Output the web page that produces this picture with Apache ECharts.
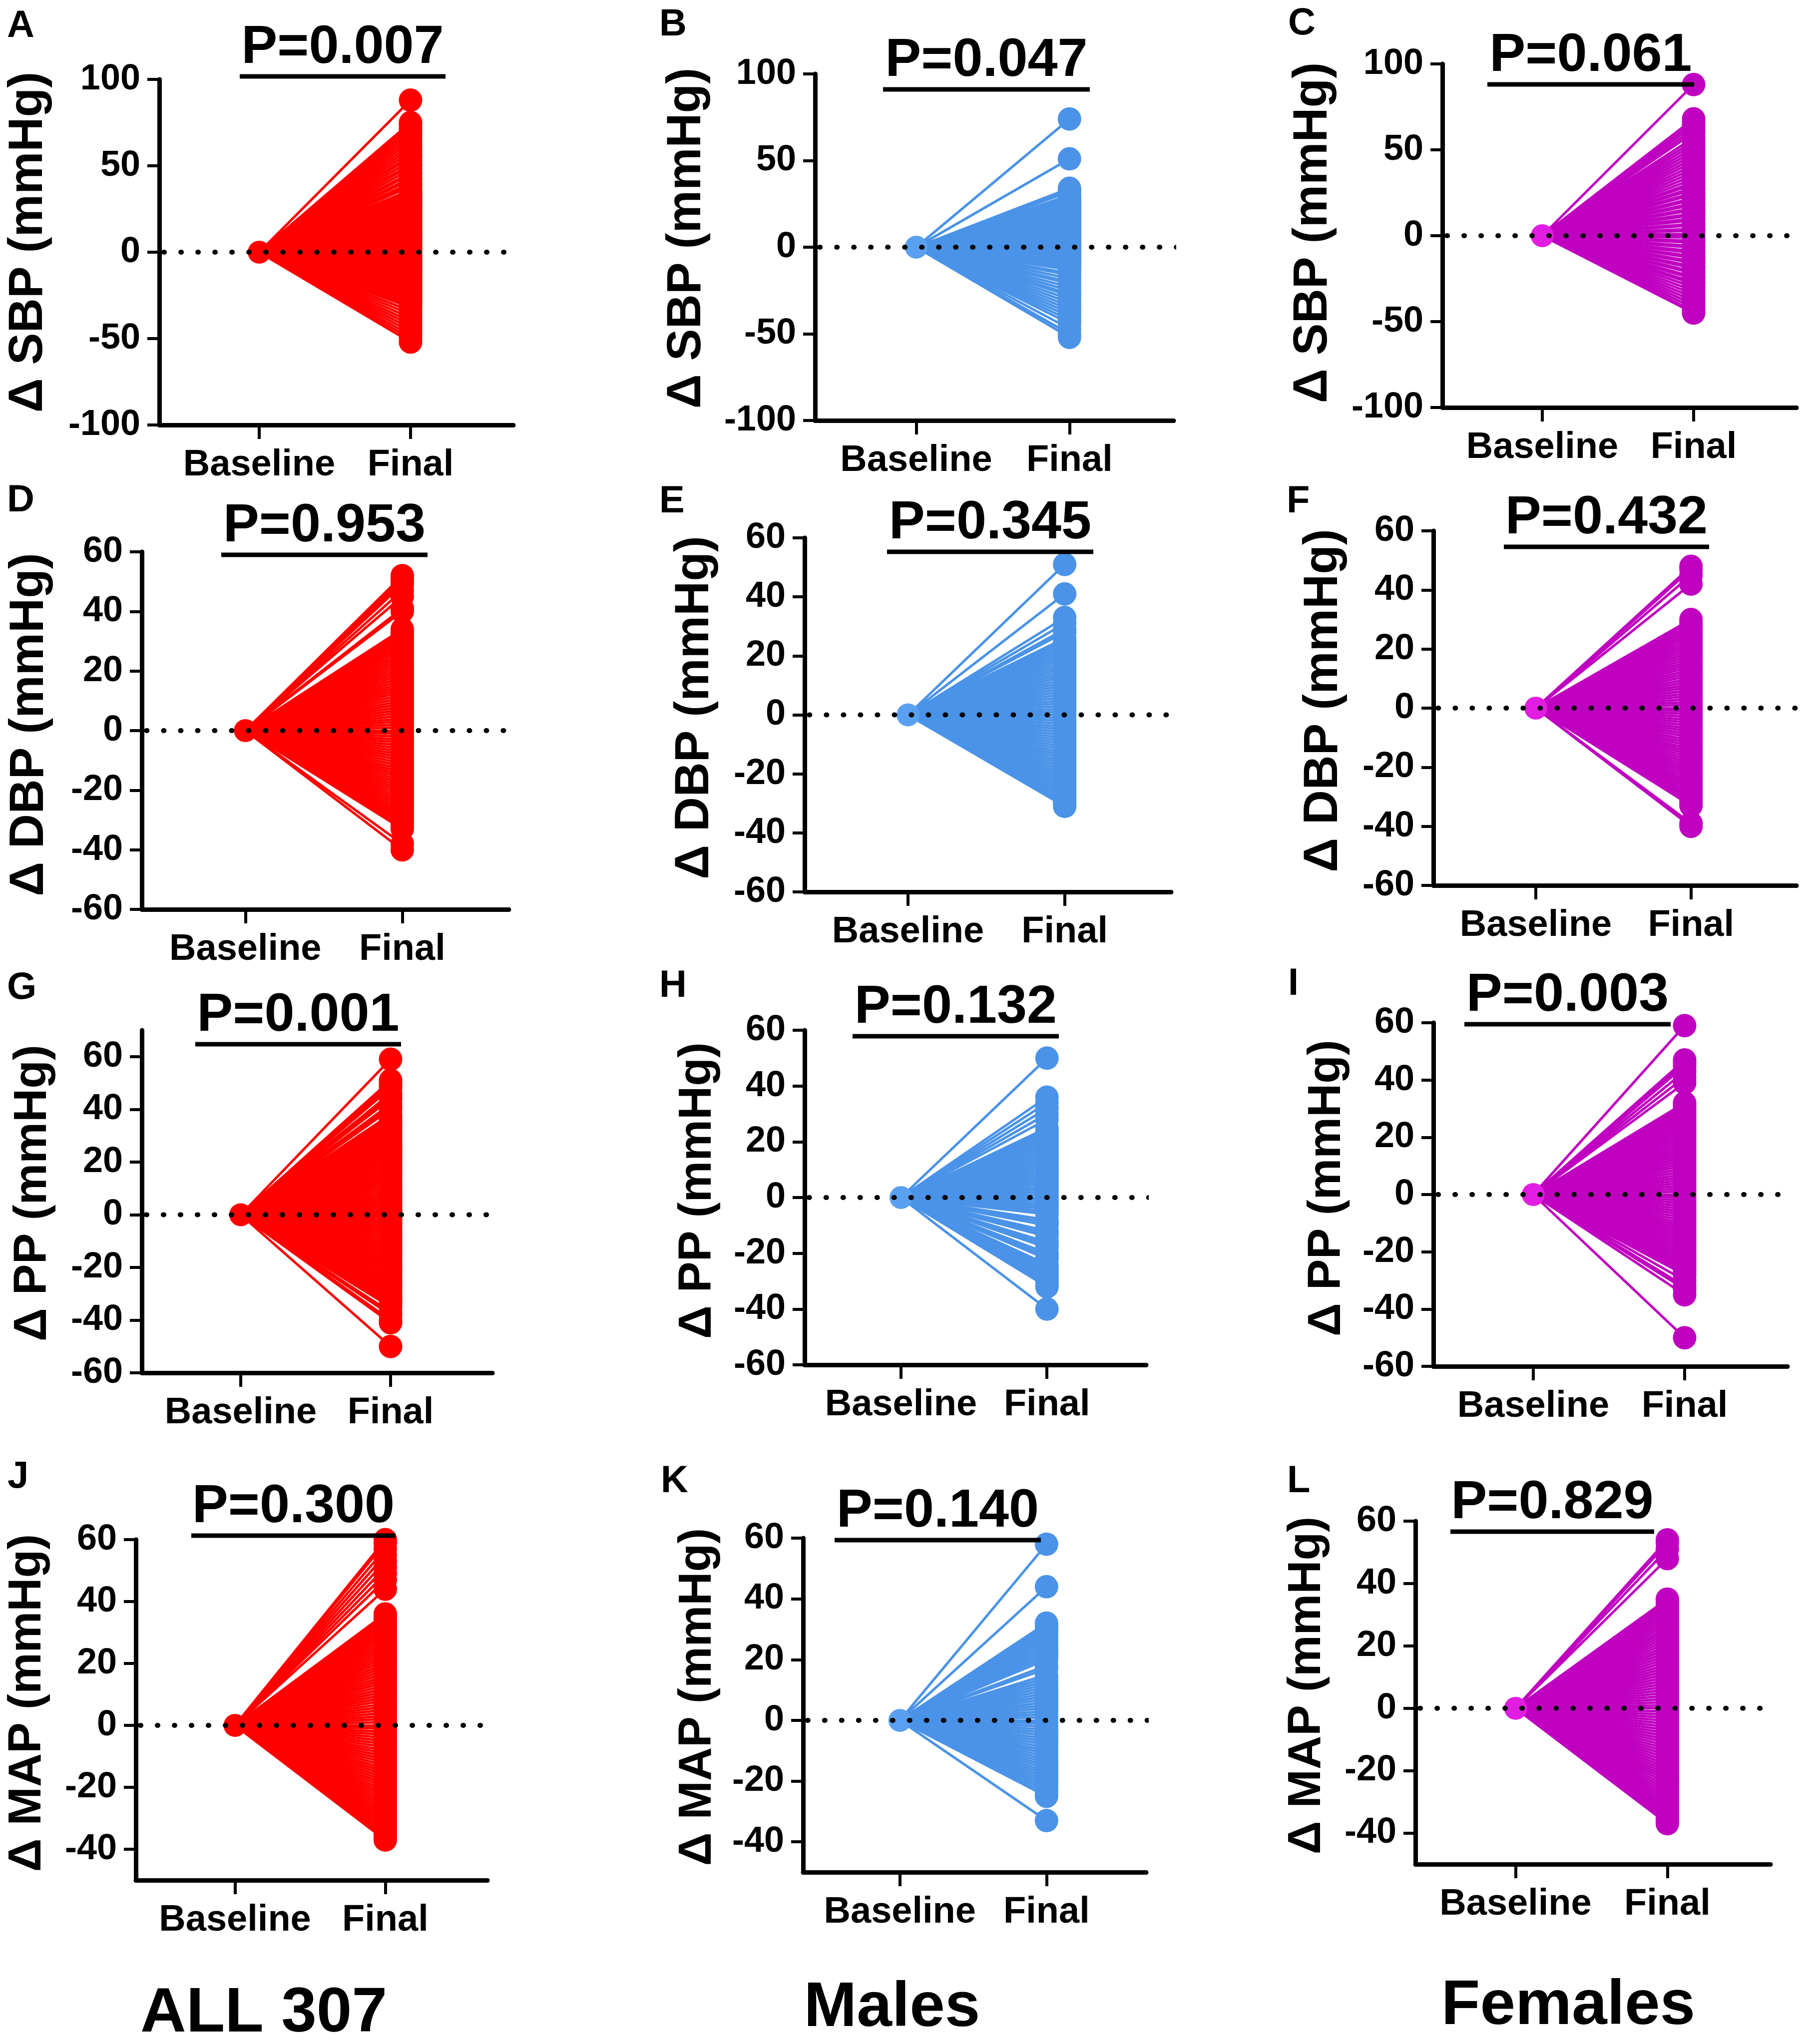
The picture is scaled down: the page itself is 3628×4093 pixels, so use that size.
<!DOCTYPE html>
<html><head><meta charset="utf-8">
<script src="https://cdn.jsdelivr.net/npm/echarts@6/dist/echarts.min.js"></script>
<style>html,body{margin:0;padding:0;background:#fff}#c{width:3628px;height:4093px}</style>
</head><body><div id="c"></div><script>
// ---------- data ----------
const categories = ['Baseline', 'Final'];
const panelLetters = ['A','B','C','D','E','F','G','H','I','J','K','L'];
const pLabels = ['P=0.007','P=0.047','P=0.061','P=0.953','P=0.345','P=0.432','P=0.001','P=0.132','P=0.003','P=0.300','P=0.140','P=0.829'];
const yTitles = ['\u0394 SBP (mmHg)', '\u0394 DBP (mmHg)', '\u0394 PP (mmHg)', '\u0394 MAP (mmHg)'];
const groupLabels = ['ALL 307', 'Males', 'Females'];
const ticksSBP = [-100, -50, 0, 50, 100];
const ticksDBP = [-60, -40, -20, 0, 20, 40, 60];
const ticksPP  = [-60, -40, -20, 0, 20, 40, 60];
const ticksMAP = [-40, -20, 0, 20, 40, 60];

// Final change values (Baseline is 0 for every subject)
const sbpAll = [88,75,74,72,70,68,66,64,62,60,58,56,55,53,51,50,48,46,45,43,42,40,39,38,36,35,34,33,32,31,30,29,28,27,26,25,24,23,22,21,20,19,18,17,16,15,14,13,12,11,10,9,8,7,6,5,4,3,2,1,0,-1,-2,-3,-4,-5,-6,-7,-8,-9,-10,-11,-12,-13,-14,-15,-16,-17,-18,-19,-20,-21,-22,-23,-24,-25,-26,-27,-28,-29,-30,-31,-32,-34,-36,-38,-40,-42,-44,-46,-48,-50,-52];
const sbpMale = [74,51,34,33,32,30,29,28,27,26,25,24,23,22,21,20,19,18,17,16,15,14,13,12,11,10,9,8,7,6,5,4,3,2,1,0,-1,-2,-3,-4,-5,-6,-7,-8,-9,-10,-11,-12,-13,-15,-16,-18,-20,-21,-23,-25,-27,-28,-30,-32,-34,-36,-38,-40,-42,-44,-47,-50,-52];
const sbpFemale = [88,68,66,64,62,60,57,55,53,51,49,47,45,43,41,39,37,35,33,31,30,28,27,25,24,22,21,19,18,16,15,13,12,10,9,7,6,4,3,1,0,-1,-3,-4,-6,-7,-9,-10,-12,-13,-15,-16,-18,-19,-21,-22,-24,-25,-27,-28,-30,-32,-34,-36,-38,-40,-42,-44,-45];
const dbpAll = [52,51,50,49,47,45,41,40,34,33,32,31,30,29,28,27,26,25,24,23,22,21,20,19,18,17,16,15,14,13,12,11,10,9,8,7,6,5,4,3,2,1,0,-1,-2,-3,-4,-5,-6,-7,-8,-9,-10,-11,-12,-13,-14,-15,-16,-17,-18,-19,-20,-21,-22,-23,-24,-25,-26,-27,-28,-29,-30,-31,-32,-33,-38,-40];
const dbpMale = [51,41,33,31,29,28,26,25,24,23,22,21,20,19,18,17,16,15,14,13,12,11,10,9,8,7,6,5,4,3,2,1,0,-1,-2,-3,-4,-5,-6,-7,-8,-9,-10,-11,-12,-13,-14,-15,-16,-17,-18,-19,-20,-21,-22,-23,-24,-25,-26,-27,-28,-29,-30,-31];
const dbpFemale = [48,47,45,42,30,29,28,27,26,25,24,23,22,21,20,19,18,17,16,15,14,13,12,11,10,9,8,7,6,5,4,3,2,1,0,-1,-2,-3,-4,-5,-6,-7,-8,-9,-10,-11,-12,-13,-14,-15,-16,-17,-18,-19,-20,-21,-22,-23,-24,-25,-26,-27,-28,-29,-30,-31,-32,-33,-39,-40];
const ppAll = [59,51,50,49,48,46,45,44,42,41,40,38,37,36,35,34,33,32,31,30,29,28,27,26,25,24,23,22,21,20,19,18,17,16,15,14,13,12,11,10,9,8,7,6,5,4,3,2,1,0,-1,-2,-3,-4,-5,-6,-7,-8,-9,-10,-11,-12,-13,-14,-15,-16,-17,-18,-19,-20,-21,-22,-23,-24,-25,-26,-27,-28,-29,-30,-31,-32,-33,-34,-35,-37,-38,-40,-41,-50];
const ppMale = [50,36,34,32,30,28,25,24,23,22,21,20,19,18,17,16,15,14,13,12,11,10,9,8,7,6,5,4,3,2,1,0,-1,-2,-3,-4,-5,-6,-8,-9,-10,-12,-13,-14,-16,-17,-18,-20,-21,-22,-24,-25,-26,-27,-28,-29,-30,-31,-32,-40];
const ppFemale = [59,47,46,45,43,41,39,32,31,30,29,28,27,26,25,24,23,22,21,20,19,18,17,16,15,14,13,12,11,10,9,8,7,6,5,4,3,2,1,0,-1,-2,-3,-4,-5,-6,-7,-8,-9,-10,-11,-12,-13,-14,-15,-16,-17,-18,-19,-20,-21,-22,-23,-24,-25,-26,-27,-28,-30,-32,-33,-35,-50];
const mapAll = [60,59,57,55,53,51,49,47,44,36,35,34,33,32,31,30,29,28,27,26,25,24,23,22,21,20,19,18,17,16,15,14,13,12,11,10,9,8,7,6,5,4,3,2,1,0,-1,-2,-3,-4,-5,-6,-7,-8,-9,-10,-11,-12,-13,-14,-15,-16,-17,-18,-19,-20,-21,-22,-23,-24,-25,-26,-27,-28,-29,-30,-31,-32,-33,-34,-35,-36,-37];
const mapMale = [58,44,32,31,30,29,28,27,26,25,24,23,22,21,20,18,17,15,14,13,12,11,10,9,8,7,6,5,4,3,2,1,0,-1,-2,-3,-4,-5,-6,-7,-8,-9,-10,-11,-12,-13,-14,-15,-16,-17,-18,-19,-20,-21,-22,-23,-24,-25,-33];
const mapFemale = [54,53,51,48,35,34,33,32,31,30,29,28,27,26,25,24,23,22,21,20,19,18,17,16,15,14,13,12,11,10,9,8,7,6,5,4,3,2,1,0,-1,-2,-3,-4,-5,-6,-7,-8,-9,-10,-11,-12,-13,-14,-15,-16,-17,-18,-19,-20,-21,-22,-23,-24,-25,-26,-27,-28,-29,-30,-31,-32,-33,-34,-35,-36,-37];

// ---------- panel setup ----------
const panelValues = [sbpAll, sbpMale, sbpFemale, dbpAll, dbpMale, dbpFemale, ppAll, ppMale, ppFemale, mapAll, mapMale, mapFemale];
const panelTicks = [ticksSBP, ticksSBP, ticksSBP, ticksDBP, ticksDBP, ticksDBP, ticksPP, ticksPP, ticksPP, ticksMAP, ticksMAP, ticksMAP];
const panelRange = [[-100,100],[-100,100],[-100,100],[-60,60],[-60,60],[-60,60],[-60,70],[-60,60],[-60,60],[-50,60],[-50,60],[-50,60]];

const lineColors = ['#FF0000', '#4A93E8', '#C000C0'];
const baseColors = ['#FF0000', '#5AA0F0', '#E21DE2'];
const FONT = "'Liberation Sans', Arial, sans-serif";
const X_MIN = -0.66, X_MAX = 1.68;

// layout: g = [left, top, right, bottom] of plot; p = [x1, x2, y] significance bar; l = letter [x, yMid]; t = y title [x, y]
const layout = [
  {g:[319,159,1028,851],   p:[480,892,153],    l:[14,53],     t:[58,485]},
  {g:[1632,148,2350,842],  p:[1768,2182,179],  l:[1320,50],   t:[1376,477]},
  {g:[2888,128,3597,816],  p:[2978,3392,169],  l:[2579,48],   t:[2630,466]},
  {g:[284,1105,1019,1821], p:[443,856,1111],   l:[14,1003],   t:[60,1451]},
  {g:[1611,1077,2345,1786],p:[1776,2189,1105], l:[1320,1005], t:[1392,1417]},
  {g:[2870,1063,3597,1773],p:[3011,3422,1095], l:[2576,1005], t:[2651,1403]},
  {g:[284,2063,986,2749],  p:[391,803,2091],   l:[14,1979],   t:[66,2389]},
  {g:[1611,2063,2295,2733],p:[1707,2120,2075], l:[1320,1975], t:[1397,2384]},
  {g:[2870,2048,3579,2736],p:[2932,3345,2051], l:[2579,1971], t:[2657,2379]},
  {g:[272,3083,976,3765],  p:[383,792,3075],   l:[15,2958],   t:[55,3410]},
  {g:[1608,3080,2295,3749],p:[1671,2084,3084], l:[1323,2967], t:[1397,3398]},
  {g:[2834,3046,3545,3733],p:[2904,3312,3067], l:[2577,2967], t:[2617,3375]}
];
const titleSizes = [96, 96, 93, 93];
const groupLabelPos = [[528,4033],[1786,4022],[3140,4018]];

const grids = [], xAxes = [], yAxes = [], series = [], graphics = [];

layout.forEach((L, i) => {
  const col = i % 3, row = Math.floor(i / 3);
  const vals = panelValues[i];
  const color = lineColors[col];
  grids.push({left: L.g[0], top: L.g[1], width: L.g[2] - L.g[0], height: L.g[3] - L.g[1], containLabel: false, outerBoundsMode: 'none'});
  xAxes.push({
    gridIndex: i, type: 'value', min: X_MIN, max: X_MAX,
    axisLine: {show: true, onZero: false, lineStyle: {color: '#000', width: 9}},
    axisTick: {show: true, customValues: [0, 1], length: 28, lineStyle: {color: '#000', width: 6}},
    axisLabel: {show: true, customValues: [0, 1], formatter: v => categories[Math.round(v)],
      fontSize: 74, fontWeight: 'bold', fontFamily: FONT, color: '#000', margin: 44},
    splitLine: {show: false}
  });
  yAxes.push({
    gridIndex: i, type: 'value', min: panelRange[i][0], max: panelRange[i][1],
    axisLine: {show: true, onZero: false, lineStyle: {color: '#000', width: 9}},
    axisTick: {show: true, customValues: panelTicks[i], length: 24, lineStyle: {color: '#000', width: 6}},
    axisLabel: {show: true, customValues: panelTicks[i], fontSize: 72, fontWeight: 'bold', fontFamily: FONT, color: '#000', margin: 38},
    splitLine: {show: false}
  });
  series.push({
    type: 'lines', coordinateSystem: 'cartesian2d', xAxisIndex: i, yAxisIndex: i, silent: true, z: 2,
    lineStyle: {color: color, width: 5, opacity: 1},
    data: vals.map(v => ({coords: [[0, 0], [1, v]]}))
  });
  series.push({
    type: 'scatter', xAxisIndex: i, yAxisIndex: i, silent: true, z: 3, symbolSize: 47, clip: false,
    itemStyle: {color: color, opacity: 1},
    data: vals.map(v => [1, v])
  });
  series.push({
    type: 'scatter', xAxisIndex: i, yAxisIndex: i, silent: true, z: 4, symbolSize: 46,
    itemStyle: {color: baseColors[col], opacity: 1},
    data: [[0, 0]]
  });
  series.push({
    type: 'line', xAxisIndex: i, yAxisIndex: i, silent: true, z: 6, symbol: 'none',
    lineStyle: {color: '#000', width: 10, type: [1, 33], cap: 'round'},
    data: [[X_MIN + 0.03, 0], [X_MAX + 0.02, 0]], clip: false
  });
  // significance bar + P value
  graphics.push({type: 'line', shape: {x1: L.p[0], y1: L.p[2], x2: L.p[1], y2: L.p[2]}, style: {stroke: '#000', lineWidth: 9}, z: 10});
  graphics.push({type: 'text', x: (L.p[0] + L.p[1]) / 2, y: L.p[2] - 57, z: 10,
    style: {text: pLabels[i], fill: '#000', font: "bold 108px " + FONT, align: 'center', verticalAlign: 'middle'}});
  // panel letter
  graphics.push({type: 'text', x: L.l[0], y: L.l[1], z: 10,
    style: {text: panelLetters[i], fill: '#000', font: "bold 76px " + FONT, align: 'left', verticalAlign: 'middle'}});
  // y axis title
  graphics.push({type: 'text', x: L.t[0], y: L.t[1], rotation: Math.PI / 2, z: 10,
    style: {text: yTitles[row], fill: '#000', font: "bold " + titleSizes[row] + "px " + FONT, align: 'center', verticalAlign: 'middle'}});
});

groupLabels.forEach((g, c) => {
  graphics.push({type: 'text', x: groupLabelPos[c][0], y: groupLabelPos[c][1], z: 10,
    style: {text: g, fill: '#000', font: "bold 127px " + FONT, align: 'center', verticalAlign: 'middle'}});
});

const chart = echarts.init(document.getElementById('c'), null, {renderer: 'canvas'});
chart.setOption({
  animation: false,
  backgroundColor: '#fff',
  grid: grids, xAxis: xAxes, yAxis: yAxes, series: series, graphic: graphics
});
</script></body></html>
